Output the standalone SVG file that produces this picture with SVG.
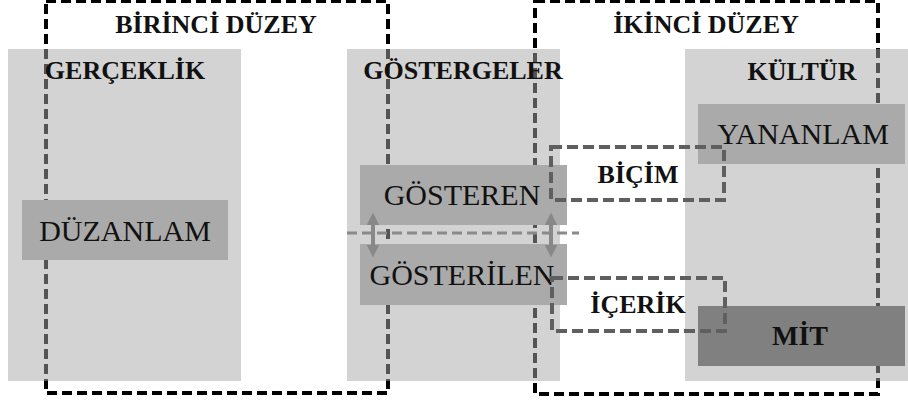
<svg xmlns="http://www.w3.org/2000/svg" width="908" height="405" viewBox="0 0 908 405">
<defs>
<style>
.lvl{fill:none;stroke:#000;stroke-width:4;stroke-dasharray:10 5}
.col{fill:#a8a8a8;fill-opacity:0.5}
.box{fill:#aaaaaa}
.dark{fill:#808080}
.grp{fill:none;stroke:#5f5f5f;stroke-width:4;stroke-dasharray:11 5}
.hl{fill:none;stroke:#8a8a8a;stroke-width:3;stroke-dasharray:10 5}
.arr{stroke:#888;stroke-width:4;fill:none}
.h{font-family:"Liberation Serif","Times New Roman",serif;font-weight:bold;font-size:26px;fill:#111;text-anchor:middle}
.t{font-family:"Liberation Serif","Times New Roman",serif;font-size:30px;fill:#111;text-anchor:middle}
</style>
<marker id="ah" viewBox="0 0 10 10" refX="5" refY="5" markerWidth="3.2" markerHeight="3.2" orient="auto-start-reverse" markerUnits="strokeWidth">
<path d="M0,0 L10,5 L0,10 z" fill="#888"/>
</marker>
</defs>
<rect width="908" height="405" fill="#fff"/>
<g id="levels">
<rect id="birinci" class="lvl" x="46" y="1" width="342" height="392"/>
<rect id="ikinci" class="lvl" x="535" y="1" width="343" height="393"/>
</g>
<g id="gerceklik">
<rect class="col" x="8" y="49" width="233" height="332"/>
<text class="h" x="125" y="79">GERÇEKLİK</text>
</g>
<g id="gostergeler">
<rect class="col" x="347" y="49" width="213" height="332"/>
<text class="h" x="463" y="79">GÖSTERGELER</text>
</g>
<g id="kultur">
<rect class="col" x="685" y="49" width="223" height="332"/>
<text class="h" x="802" y="80">KÜLTÜR</text>
</g>
<g id="birinci-label"><text class="h" x="216" y="33">BİRİNCİ DÜZEY</text></g>
<g id="ikinci-label"><text class="h" x="706" y="33">İKİNCİ DÜZEY</text></g>
<g id="duzanlam">
<rect class="box" x="22" y="200" width="206" height="60"/>
<text class="t" x="125" y="241">DÜZANLAM</text>
</g>
<g id="gosteren">
<rect class="box" x="360" y="165" width="207" height="60"/>
<text class="t" x="462" y="205">GÖSTEREN</text>
</g>
<g id="gosterilen">
<rect class="box" x="360" y="244" width="207" height="61"/>
<text class="t" x="462" y="285">GÖSTERİLEN</text>
</g>
<g id="yananlam">
<rect class="box" x="698" y="104" width="207" height="60"/>
<text class="t" x="803" y="144">YANANLAM</text>
</g>
<g id="mit">
<rect class="dark" x="698" y="306" width="207" height="60"/>
<text class="h" x="800" y="345" style="font-size:28px">MİT</text>
</g>
<g id="connectors">
<line class="hl" x1="347" y1="233" x2="579" y2="233"/>
<line class="arr" x1="373" y1="219" x2="373" y2="251" marker-start="url(#ah)" marker-end="url(#ah)"/>
<line class="arr" x1="551" y1="219" x2="551" y2="251" marker-start="url(#ah)" marker-end="url(#ah)"/>
<rect id="bicim-box" class="grp" x="551" y="147" width="173" height="53"/>
<rect id="icerik-box" class="grp" x="552" y="278" width="173" height="53"/>
</g>
<g id="bicim"><text class="h" x="638" y="183">BİÇİM</text></g>
<g id="icerik"><text class="h" x="638" y="313">İÇERİK</text></g>
</svg>
